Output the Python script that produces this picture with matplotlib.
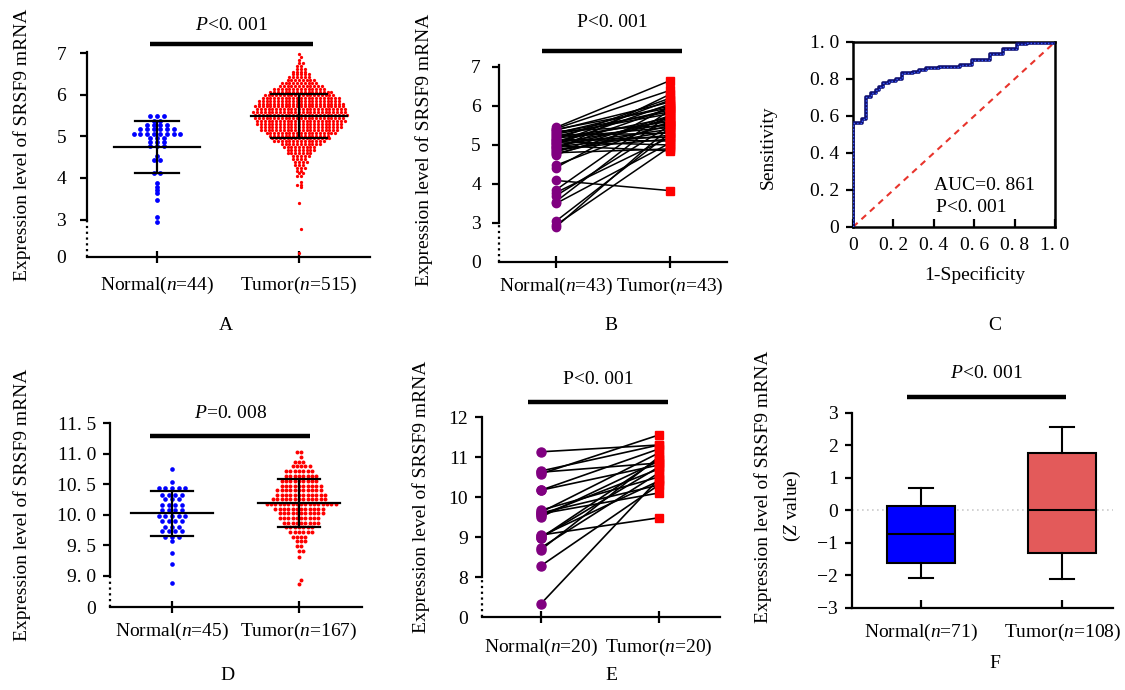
import numpy as np
import matplotlib
matplotlib.use('Agg')
import matplotlib.pyplot as plt

plt.rcParams['font.family'] = ['Liberation Serif', 'DejaVu Serif']
plt.rcParams['mathtext.fontset'] = 'custom'
plt.rcParams['mathtext.rm'] = 'Liberation Serif'
plt.rcParams['mathtext.it'] = 'Liberation Serif:italic'
plt.rcParams['font.size'] = 14

W, H = 1125, 690

# ---- panel A: TCGA scatter (rows of the swarm: level -> number of dots)
a_norm_lev = [5.48, 5.36, 5.28, 5.19, 5.07, 4.96, 4.86, 4.76, 4.54, 4.44, 4.13,
              3.87, 3.79, 3.71, 3.63, 3.48, 3.05, 2.93]
a_norm_cnt = [3, 2, 4, 6, 8, 3, 3, 3, 1, 2, 2, 1, 1, 1, 1, 1, 1, 1]
a_tum_lev = [6.98, 6.91, 6.84, 6.77, 6.70, 6.63, 6.56, 6.49, 6.42, 6.35, 6.28, 6.21,
             6.14, 6.07, 6.00, 5.93, 5.86, 5.79, 5.72, 5.65, 5.58, 5.51, 5.44, 5.37,
             5.30, 5.23, 5.16, 5.09, 5.02, 4.95, 4.88, 4.81, 4.74, 4.67, 4.60, 4.53,
             4.46, 4.39, 4.32, 4.25, 4.18, 4.11, 4.04, 3.90, 3.84, 3.78, 3.41, 2.78, 2.20]
a_tum_cnt = [1, 1, 1, 2, 2, 3, 4, 5, 6, 8, 10, 12, 14, 17, 19, 21, 22, 23, 24, 24,
             25, 25, 24, 24, 23, 22, 21, 19, 16, 16, 14, 11, 9, 8, 7, 5, 4, 4, 3, 3,
             2, 2, 2, 1, 2, 1, 1, 1, 1]
a_mean = [4.75, 5.50]
a_sd_hi = [5.38, 6.03]
a_sd_lo = [4.13, 4.97]
a_labels = [r'Normal($\it{n}$=44)', r'Tumor($\it{n}$=515)']

# ---- panel B: paired samples
b_norm = [5.45, 5.42, 5.38, 5.35, 5.30, 5.28, 5.25, 5.22, 5.20, 5.18, 5.15, 5.12, 5.10,
          5.08, 5.05, 5.02, 5.00, 4.98, 4.95, 4.92, 4.90, 4.88, 4.85, 4.82, 4.80, 4.78,
          5.32, 5.14, 5.06, 4.96, 4.48, 4.42, 4.09, 3.85, 3.78, 3.70, 3.55, 3.50, 3.05,
          2.95, 2.90, 4.75, 5.40]
b_tum = [6.65, 6.40, 6.10, 5.50, 6.00, 5.80, 5.30, 5.90, 5.60, 5.45, 6.20, 5.20, 5.70,
         5.00, 5.55, 6.05, 5.40, 4.85, 5.65, 5.95, 5.15, 6.30, 5.35, 5.75, 4.90, 5.50,
         5.85, 5.10, 6.15, 5.25, 5.60, 6.00, 3.83, 5.90, 5.20, 5.50, 5.80, 5.05, 5.30,
         4.95, 5.45, 5.70, 5.95]
b_labels = [r'Normal($\it{n}$=43)', r'Tumor($\it{n}$=43)']

# ---- panel C: ROC
roc_fpr = [0, 0, 0.045, 0.065, 0.087, 0.112, 0.128, 0.148, 0.178, 0.212, 0.245, 0.295,
           0.328, 0.362, 0.428, 0.528, 0.588, 0.678, 0.745, 0.812, 0.862, 1.0]
roc_tpr = [0, 0.562, 0.585, 0.70, 0.725, 0.74, 0.757, 0.78, 0.79, 0.80, 0.83, 0.84,
           0.85, 0.86, 0.865, 0.875, 0.905, 0.937, 0.964, 0.987, 0.996, 1.0]

# ---- panel D: GEO scatter
d_norm_lev = [10.75, 10.54, 10.43, 10.33, 10.26, 10.16, 10.08, 9.98, 9.90, 9.80, 9.73,
              9.63, 9.57, 9.37, 9.20, 8.88]
d_norm_cnt = [1, 1, 5, 4, 3, 4, 4, 5, 4, 3, 4, 3, 1, 1, 1, 1]
d_tum_lev = [11.03, 10.95, 10.87, 10.79, 10.71, 10.63, 10.55, 10.47, 10.40, 10.32, 10.25,
             10.18, 10.10, 10.02, 9.95, 9.87, 9.80, 9.72, 9.64, 9.57, 9.48, 9.40, 9.30,
             8.93, 8.87]
d_tum_cnt = [2, 1, 3, 5, 7, 8, 9, 10, 11, 12, 13, 17, 12, 11, 10, 9, 7, 6, 4, 3, 2, 2, 1, 1, 1]
d_mean = [10.02, 10.19]
d_sd_hi = [10.39, 10.58]
d_sd_lo = [9.65, 9.80]
d_labels = [r'Normal($\it{n}$=45)', r'Tumor($\it{n}$=167)']

# ---- panel E: paired samples
e_norm = [11.13, 10.65, 10.62, 10.58, 10.17, 10.17, 9.67, 9.62, 9.58, 9.55, 9.50, 9.05,
          9.02, 8.98, 8.73, 8.68, 8.28, 7.33, 9.60, 8.98]
e_tum = [11.30, 11.30, 10.85, 11.55, 10.80, 11.20, 10.50, 11.10, 10.10, 10.70, 10.90, 9.48,
         10.40, 10.95, 10.60, 11.00, 10.30, 10.45, 10.30, 10.75]
e_labels = [r'Normal($\it{n}$=20)', r'Tumor($\it{n}$=20)']

# ---- panel F: box plot (Z value)
f_med = [-0.72, 0.0]
f_q1 = [-1.62, -1.32]
f_q3 = [0.13, 1.75]
f_lo = [-2.07, -2.12]
f_hi = [0.68, 2.55]
f_colors = ['#0000ff', '#e35a5a']
f_labels = [r'Normal($\it{n}$=71)', r'Tumor($\it{n}$=108)']

ylab = 'Expression level of SRSF9 mRNA'

fig = plt.figure(figsize=(W / 100, H / 100), dpi=100)


def ax_px(l, t, r, b):
    return fig.add_axes([l / W, 1 - b / H, (r - l) / W, (b - t) / H])


def swarm(levels, counts, x0, dx, stagger=False):
    ys = np.repeat(levels, counts)
    parts = []
    for i, c in enumerate(counts):
        shift = dx / 2 if (stagger and i % 2) else 0
        parts.append(x0 + shift + (np.arange(c) - (c - 1) / 2) * dx)
    return np.concatenate(parts), ys


def broken(ax, zero, lo, top, ticks, xl, labels, ypad, xpad):
    ax.set_xlim(*xl)
    ax.set_ylim(zero, top)
    ax.spines['top'].set_visible(False)
    ax.spines['right'].set_visible(False)
    ax.spines['left'].set_bounds(lo, top)
    for s in ['left', 'bottom']:
        ax.spines[s].set_linewidth(1.6)
    ax.plot([0, 0], [zero, lo], transform=ax.get_yaxis_transform(), ls=(0, (1, 1.6)),
            color='k', lw=1.6, clip_on=False)
    ax.set_yticks([zero] + ticks)
    ax.set_yticklabels(['0'] + [str(t) for t in ticks])
    ax.yaxis.get_major_ticks()[0].tick1line.set_visible(False)
    ax.set_xticks([1, 2])
    ax.set_xticklabels(labels)
    ax.tick_params(axis='y', direction='out', length=5, width=1.6, pad=ypad)
    ax.tick_params(axis='x', direction='inout', length=8, width=1.6, pad=xpad)


def sig(ax, x1, x2, y, ty, txt):
    ax.plot([x1, x2], [y, y], color='k', lw=3.2, clip_on=False, solid_capstyle='butt')
    ax.text((x1 + x2) / 2, ty, txt, ha='center', va='center', fontsize=14)


def mean_sd(ax, mean, hi, lo, mw, cw, lw=1.6):
    for i in range(2):
        x = i + 1
        ax.plot([x - mw[i], x + mw[i]], [mean[i]] * 2, color='k', lw=lw)
        ax.plot([x - cw[i], x + cw[i]], [hi[i]] * 2, color='k', lw=lw)
        ax.plot([x - cw[i], x + cw[i]], [lo[i]] * 2, color='k', lw=lw)
        ax.plot([x, x], [lo[i], hi[i]], color='k', lw=lw)


# ================= A
axA = ax_px(87, 52, 370, 257)
broken(axA, 2.1, 3, 7.03, [3, 4, 5, 6, 7], (0.507, 2.5), a_labels, 10, 9)
xs, ys = swarm(a_norm_lev, a_norm_cnt, 1, 0.047)
axA.scatter(xs, ys, s=12, color='#0000ff', lw=0, zorder=2)
xs, ys = swarm(a_tum_lev, a_tum_cnt, 2, 0.0268, stagger=True)
axA.scatter(xs, ys, s=5.5, color='#ff0000', lw=0, zorder=2)
mean_sd(axA, a_mean, a_sd_hi, a_sd_lo, [0.30, 0.34], [0.155, 0.20])
sig(axA, 0.95, 2.1, 7.23, 7.67, r'$\it{P}$<0. 001')

# ================= B
axB = ax_px(499, 65, 727, 262)
broken(axB, 2.0, 3, 7.05, [3, 4, 5, 6, 7], (0.5, 2.5), b_labels, 8, 6)
axB.plot(np.vstack([np.ones(len(b_norm)), np.full(len(b_tum), 2)]),
         np.vstack([b_norm, b_tum]), color='k', lw=1.1, zorder=2)
axB.plot(np.ones(len(b_norm)), b_norm, 'o', color='#800080', ms=6, zorder=3)
axB.plot(np.full(len(b_tum), 2), b_tum, 's', color='#ff0000', ms=5.5, zorder=3)
sig(axB, 0.877, 2.105, 7.41, 8.13, 'P<0. 001')

# ================= C
axC = ax_px(853, 42, 1055, 227)
axC.step(roc_fpr, roc_tpr, where='post', color='#101070', lw=2.6, zorder=3)
axC.step(roc_fpr, roc_tpr, where='post', color='#3a5cff', lw=1.0, ls=(0, (1, 1.5)), zorder=4)
axC.plot([0, 1], [0, 1], color='#e8342c', ls=(0, (3, 2.5)), lw=1.5, zorder=2)
axC.set_xlim(0, 1)
axC.set_ylim(0, 1)
for s in axC.spines.values():
    s.set_linewidth(1.8)
tl = ['0', '0. 2', '0. 4', '0. 6', '0. 8', '1. 0']
axC.set_xticks([0, 0.2, 0.4, 0.6, 0.8, 1.0])
axC.set_xticklabels(tl)
axC.set_yticks([0, 0.2, 0.4, 0.6, 0.8, 1.0])
axC.set_yticklabels(tl)
axC.tick_params(axis='x', direction='in', length=6, width=1.6, pad=7, top=False)
axC.tick_params(axis='y', direction='out', length=5, width=1.6, pad=5)
axC.text(0.40, 0.227, 'AUC=0. 861', ha='left', va='center', fontsize=14)
axC.text(0.41, 0.103, 'P<0. 001', ha='left', va='center', fontsize=14)
fig.text(975 / W, 1 - 275 / H, '1-Specificity', ha='center', va='center', fontsize=14)
fig.text(768 / W, 1 - 147 / H, 'Sensitivity', ha='center', va='center', rotation=90, fontsize=14)

# ================= D
axD = ax_px(110, 423, 362, 607)
broken(axD, 8.49, 9.0, 11.5, [9.0, 9.5, 10.0, 10.5, 11.0, 11.5], (0.512, 2.496), d_labels, 5, 6)
axD.set_yticklabels(['0', '9. 0', '9. 5', '10. 0', '10. 5', '11. 0', '11. 5'])
xs, ys = swarm(d_norm_lev, d_norm_cnt, 1, 0.053)
axD.scatter(xs, ys, s=11, color='#0000ff', lw=0, zorder=2)
xs, ys = swarm(d_tum_lev, d_tum_cnt, 2, 0.034, stagger=True)
axD.scatter(xs, ys, s=8, color='#ff0000', lw=0, zorder=2)
mean_sd(axD, d_mean, d_sd_hi, d_sd_lo, [0.32, 0.32], [0.165, 0.165])
sig(axD, 0.827, 2.087, 11.29, 11.65, r'$\it{P}$=0. 008')

# ================= E
axE = ax_px(482, 417, 720, 617)
broken(axE, 7.0, 8, 12.0, [8, 9, 10, 11, 12], (0.5, 2.52), e_labels, 5, 10)
axE.plot(np.vstack([np.ones(len(e_norm)), np.full(len(e_tum), 2)]),
         np.vstack([e_norm, e_tum]), color='k', lw=1.2, zorder=2)
axE.plot(np.ones(len(e_norm)), e_norm, 'o', color='#800080', ms=6.5, zorder=3)
axE.plot(np.full(len(e_tum), 2), e_tum, 's', color='#ff0000', ms=6, zorder=3)
sig(axE, 0.89, 2.076, 12.375, 12.93, 'P<0. 001')

# ================= F
axF = ax_px(852, 412, 1113, 608)
stats = [dict(med=f_med[i], q1=f_q1[i], q3=f_q3[i], whislo=f_lo[i], whishi=f_hi[i],
              fliers=[]) for i in range(2)]
bp = axF.bxp(stats, positions=[1, 2], widths=0.485, patch_artist=True, showfliers=False,
             capwidths=0.17,
             boxprops=dict(edgecolor='k', linewidth=1.5),
             medianprops=dict(color='k', linewidth=1.5),
             whiskerprops=dict(color='k', linewidth=1.5),
             capprops=dict(color='k', linewidth=1.5), zorder=3)
for patch, c in zip(bp['boxes'], f_colors):
    patch.set_facecolor(c)
axF.axhline(0, color='#cccccc', ls=(0, (1, 2)), lw=1.2, zorder=1)
axF.set_xlim(0.51, 2.36)
axF.set_ylim(-3, 3.02)
axF.spines['top'].set_visible(False)
axF.spines['right'].set_visible(False)
axF.spines['left'].set_bounds(-3, 3)
for s in ['left', 'bottom']:
    axF.spines[s].set_linewidth(1.6)
axF.set_yticks([-3, -2, -1, 0, 1, 2, 3])
axF.set_xticks([1, 2])
axF.set_xticklabels(f_labels)
axF.tick_params(axis='x', direction='in', length=6, width=1.6, pad=10)
axF.tick_params(axis='y', direction='out', length=5, width=1.6, pad=5)
sig(axF, 0.9, 2.03, 3.49, 4.19, r'$\it{P}$<0. 001')
fig.text(763 / W, 1 - 487 / H, ylab, ha='center', va='center', rotation=90, fontsize=14)
fig.text(792 / W, 1 - 506 / H, r'($\it{Z}$ value)', ha='center', va='center', rotation=90, fontsize=14)

# y labels of A, B, D, E
fig.text(22 / W, 1 - 145 / H, ylab, ha='center', va='center', rotation=90, fontsize=14)
fig.text(424 / W, 1 - 150 / H, ylab, ha='center', va='center', rotation=90, fontsize=14)
fig.text(22 / W, 1 - 505 / H, ylab, ha='center', va='center', rotation=90, fontsize=14)
fig.text(421 / W, 1 - 497 / H, ylab, ha='center', va='center', rotation=90, fontsize=14)

# panel letters
for lab, x, y in [('A', 226, 325), ('B', 611, 325), ('C', 995, 325),
                  ('D', 227, 675), ('E', 611, 675), ('F', 995, 663)]:
    fig.text(x / W, 1 - y / H, lab, ha='center', va='center', fontsize=14)

fig.savefig('out.png', dpi=100)
